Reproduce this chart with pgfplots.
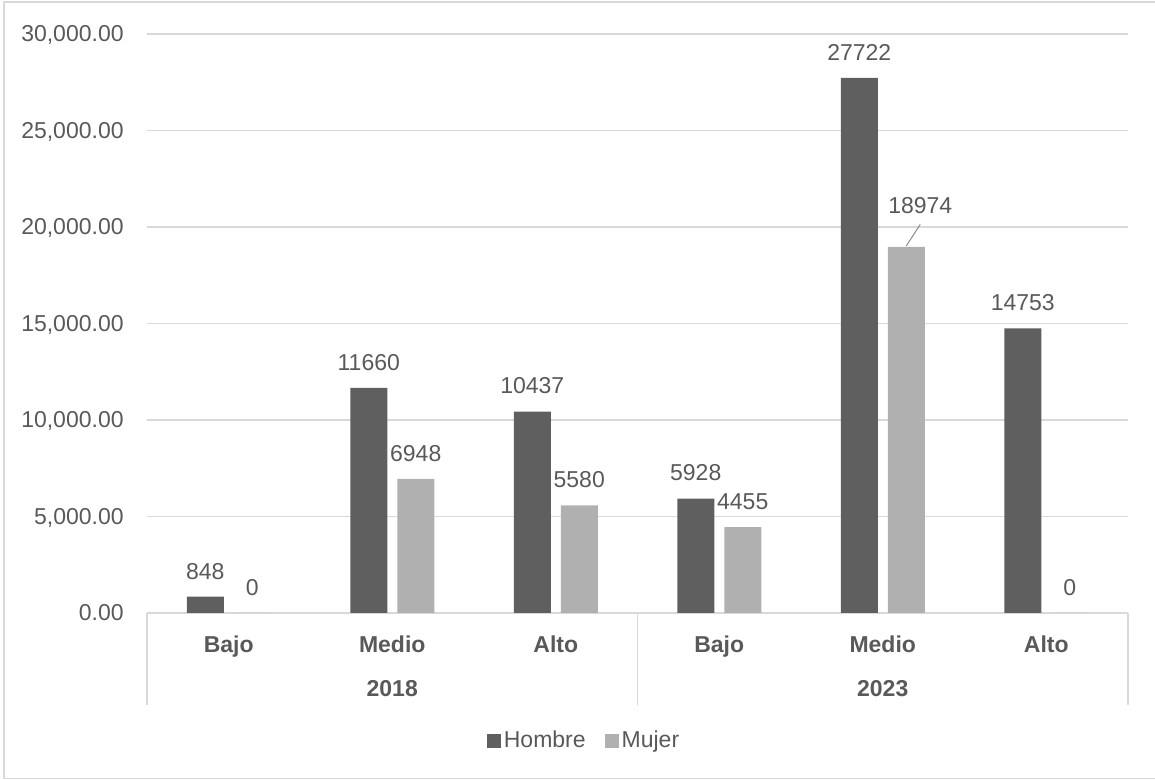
\documentclass[border=0pt]{standalone}
\usepackage{pgfplots}
\pgfplotsset{compat=1.18}
\usepackage{fontspec}
\setmainfont{Liberation Sans}

\definecolor{txt}{HTML}{595959}
\definecolor{gridc}{HTML}{D9D9D9}
\definecolor{hombre}{HTML}{5F5F5F}
\definecolor{mujer}{HTML}{B0B0B0}

\newcommand{\chartfont}{\fontsize{11.5}{13.5}\selectfont}

\begin{document}
\begin{tikzpicture}[x=1pt,y=1pt]
  % page frame (1px = 0.5pt)
  \path[use as bounding box] (0,0) rectangle (577.5,390);
  \draw[gridc, line width=0.6pt] (578,389) -- (2,389) -- (2,0.6) -- (578,0.6);

  \begin{axis}[
    at={(73.5pt,83.5pt)}, anchor=south west,
    scale only axis, width=490.5pt, height=289.5pt,
    clip=false,
    ybar=5pt, bar width=18.5pt,
    xmin=-0.5, xmax=5.5, ymin=0, ymax=30000,
    xtick={0,...,5},
    xticklabels={Bajo,Medio,Alto,Bajo,Medio,Alto},
    ytick={0,5000,...,30000},
    scaled y ticks=false,
    axis line style={draw=none},
    tick style={draw=none},
    ymajorgrids, grid style={gridc, line width=0.75pt},
    font=\chartfont,
    tick label style={text=txt},
    yticklabel style={anchor=base east, inner sep=0pt, xshift=-11.5pt, yshift=-4pt},
    xticklabel style={font=\chartfont\bfseries, anchor=base, inner sep=0pt, yshift=-15.5pt},
    nodes near coords,
    point meta=explicit symbolic,
    every node near coord/.append style={text=txt, font=\chartfont, inner sep=0pt, anchor=base, yshift=8.8pt},
    legend style={draw=none, fill=none, at={(0.446,-0.221)}, anchor=center,
      legend columns=2, text=txt, font=\chartfont,
      /tikz/every even column/.append style={column sep=8pt},
      nodes={inner sep=1.5pt}},
    legend image code/.code={\fill[#1] (0pt,-3.5pt) rectangle (7pt,3.5pt);},
    /pgf/number format/.cd, fixed, fixed zerofill, precision=2,
      1000 sep={,}, assume math mode=true,
  ]
    \addplot[fill=hombre, draw=none] coordinates {
      (0,848)   [848]
      (1,11660) [11660]
      (2,10437) [10437]
      (3,5928)  [5928]
      (4,27722) [27722]
      (5,14753) [14753]
    };
    \addplot[fill=mujer, draw=none] coordinates {
      (0,0)     [0]
      (1,6948)  [6948]
      (2,5580)  [5580]
      (3,4455)  [4455]
      (4,18974) []
      (5,0)     [0]
    };
    \legend{Hombre,Mujer}

    % label of the 18974 bar, moved up with a leader line
    \draw[txt!70, line width=0.5pt] ([xshift=11.75pt,yshift=0.4pt]axis cs:4,18974) -- ([xshift=18.75pt,yshift=11.2pt]axis cs:4,18974);
    \node[text=txt, inner sep=0pt, anchor=base, xshift=18.75pt, yshift=16.8pt] at (axis cs:4,18974) {18974};

    % second level of the category axis
    \draw[gridc, line width=0.75pt] (axis cs:-0.5,0) -- ([yshift=-46pt]axis cs:-0.5,0);
    \draw[gridc, line width=0.75pt] (axis cs:2.5,0) -- ([yshift=-46pt]axis cs:2.5,0);
    \draw[gridc, line width=0.75pt] (axis cs:5.5,0) -- ([yshift=-46pt]axis cs:5.5,0);
    \node[text=txt, font=\chartfont\bfseries, inner sep=0pt, anchor=base, yshift=-42pt] at (axis cs:1,0) {2018};
    \node[text=txt, font=\chartfont\bfseries, inner sep=0pt, anchor=base, yshift=-42pt] at (axis cs:4,0) {2023};
  \end{axis}
\end{tikzpicture}
\end{document}
